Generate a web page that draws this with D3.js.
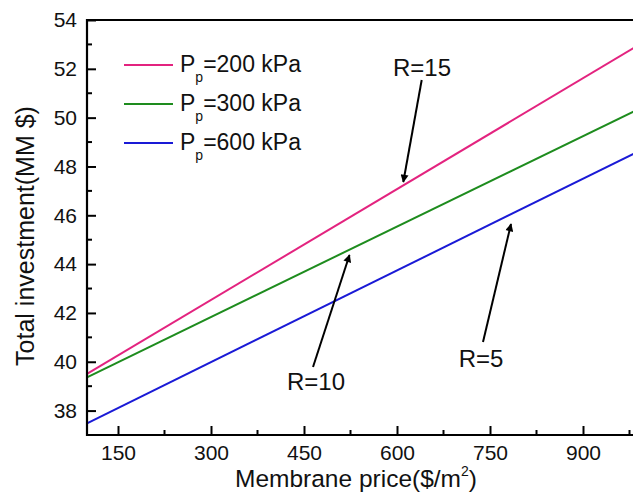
<!DOCTYPE html>
<html><head><meta charset="utf-8">
<script src="https://cdn.jsdelivr.net/npm/d3@7"></script>
<style>html,body{margin:0;padding:0;background:#fff;}svg{display:block;font-family:Arial,"Liberation Sans",sans-serif;}</style>
</head><body>
<svg id="chart" width="633" height="502"></svg>
<script>
// Data
const membranePrice = [100, 1000];
const seriesNames = ["200 kPa", "300 kPa", "600 kPa"];
const seriesColors = ["#e3237f", "#1e8c1e", "#1a1ad6"];
const pp200 = [39.50, 53.13];
const pp300 = [39.36, 50.48];
const pp600 = [37.48, 48.75];
const seriesValues = [pp200, pp300, pp600];
const xTicks = [150, 300, 450, 600, 750, 900];
const yTicks = [38, 40, 42, 44, 46, 48, 50, 52, 54];
const annotationLabels = ["R=15", "R=10", "R=5"];

const svg = d3.select("#chart");
const x = d3.scaleLinear().domain([100, 1000]).range([87, 645]);
const y = d3.scaleLinear().domain([37, 54]).range([435, 20]);
const fs = 21;
const font = "Arial, 'Liberation Sans', sans-serif";

// Lines
const line = d3.line().x(d => x(d[0])).y(d => y(d[1]));
seriesValues.forEach((vals, i) => {
  svg.append("path")
    .datum(membranePrice.map((p, j) => [p, vals[j]]))
    .attr("d", line).attr("fill", "none")
    .attr("stroke", seriesColors[i]).attr("stroke-width", 2);
});

// Axes (ticks inward)
const xMinor = d3.range(75, 1001, 75).filter(v => v > 100 && !xTicks.includes(v));
const yMinor = d3.range(37, 54, 2).filter(v => v > 37);
const gx = svg.append("g").attr("transform", `translate(0,435)`);
gx.call(d3.axisBottom(x).tickValues(xTicks).tickSize(-9).tickPadding(10).tickFormat(d3.format("d")));
gx.select(".domain").remove();
gx.selectAll(".tick line").attr("stroke", "#000").attr("stroke-width", 2);
gx.selectAll("text").attr("font-size", fs).attr("fill", "#111").attr("font-family", font);
gx.selectAll(".minor").data(xMinor).enter().append("line")
  .attr("x1", d => x(d)).attr("x2", d => x(d)).attr("y1", 0).attr("y2", -5)
  .attr("stroke", "#000").attr("stroke-width", 2);

const gy = svg.append("g").attr("transform", `translate(87,0)`);
gy.call(d3.axisLeft(y).tickValues(yTicks).tickSize(-9).tickPadding(10).tickFormat(d3.format("d")));
gy.select(".domain").remove();
gy.selectAll(".tick line").attr("stroke", "#000").attr("stroke-width", 2);
gy.selectAll("text").attr("font-size", fs).attr("fill", "#111").attr("font-family", font);
gy.selectAll(".minor").data(yMinor).enter().append("line")
  .attr("y1", d => y(d)).attr("y2", d => y(d)).attr("x1", 0).attr("x2", 5)
  .attr("stroke", "#000").attr("stroke-width", 2);

// Frame
svg.append("path").attr("d", `M640,20H87V435H640`).attr("fill", "none")
  .attr("stroke", "#000").attr("stroke-width", 2.2);

// Axis titles
svg.append("text").attr("x", 356).attr("y", 487).attr("text-anchor", "middle")
  .attr("font-size", 24.5).attr("fill", "#111")
  .html('Membrane price($/m<tspan dy="-11" font-size="14">2</tspan><tspan dy="11">)</tspan>');
svg.append("text").attr("transform", "translate(34,236) rotate(-90)").attr("text-anchor", "middle")
  .attr("font-size", 25).attr("fill", "#111").text("Total investment(MM $)");

// Legend
const legY = [65, 104, 143];
seriesNames.forEach((n, i) => {
  svg.append("line").attr("x1", 124).attr("x2", 173).attr("y1", legY[i]).attr("y2", legY[i])
    .attr("stroke", seriesColors[i]).attr("stroke-width", 2);
  const t = svg.append("text").attr("x", 180).attr("y", legY[i] + 7).attr("font-size", 23).attr("fill", "#111");
  t.append("tspan").text("P");
  t.append("tspan").attr("dy", 10).attr("font-size", 14).text("p");
  t.append("tspan").attr("dy", -10).text("=" + n);
});

// Annotations with arrows
svg.append("defs").append("marker").attr("id", "ah")
  .attr("viewBox", "0 0 10 10").attr("refX", 9).attr("refY", 5)
  .attr("markerWidth", 11).attr("markerHeight", 8).attr("markerUnits", "userSpaceOnUse")
  .attr("orient", "auto")
  .append("path").attr("d", "M0,0L10,5L0,10Z").attr("fill", "#000");
const arrows = [
  {tail: [421.7, 80], tip: [403.3, 182], text: [422, 76]},
  {tail: [313, 367], tip: [349.5, 255], text: [316, 390]},
  {tail: [483, 342], tip: [511, 224], text: [481, 367]}
];
arrows.forEach((a, i) => {
  svg.append("line").attr("x1", a.tail[0]).attr("y1", a.tail[1])
    .attr("x2", a.tip[0]).attr("y2", a.tip[1])
    .attr("stroke", "#000").attr("stroke-width", 2).attr("marker-end", "url(#ah)");
  svg.append("text").attr("x", a.text[0]).attr("y", a.text[1]).attr("text-anchor", "middle")
    .attr("font-size", 24).attr("fill", "#111").text(annotationLabels[i]);
});
</script>
</body></html>
